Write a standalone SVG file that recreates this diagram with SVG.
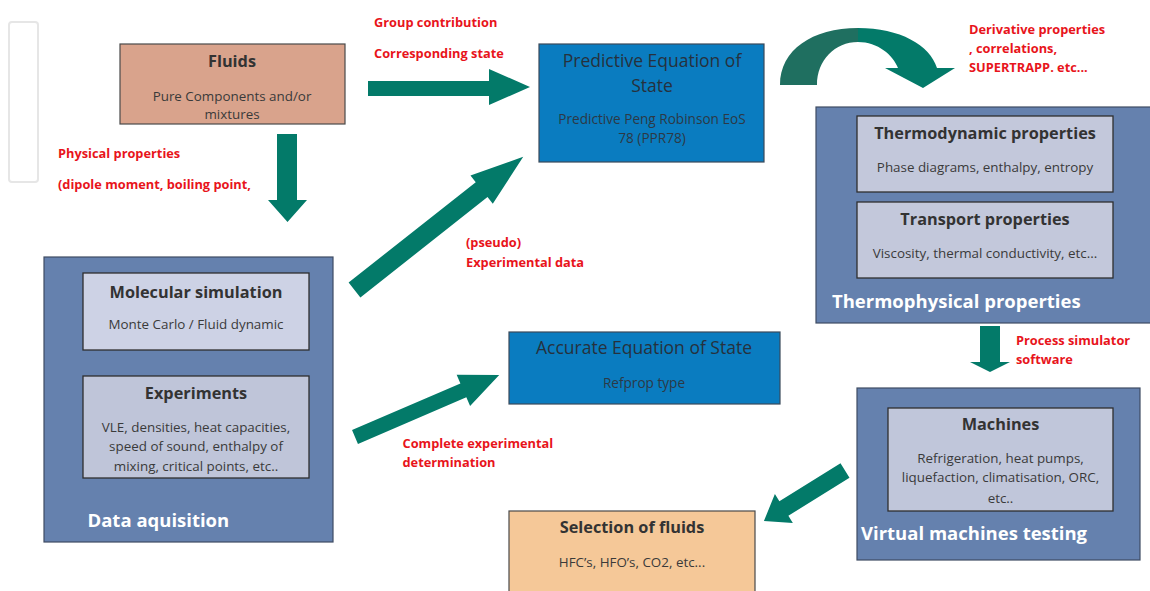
<svg xmlns="http://www.w3.org/2000/svg" width="1150" height="591" viewBox="0 0 1150 591">
<defs>
<style>
.box{stroke:#4a4a4a;stroke-width:1.2}
.cont{fill:#6581ae;stroke:#3f4c63;stroke-width:1.2}
.inner{stroke:#2e2e2e;stroke-width:1.3}
.blue{fill:#0a7cc0;stroke:#3a4a5a;stroke-width:1.2}
.arr{fill:#037a69}
.t{font-family:"Open Sans","Liberation Sans",sans-serif;fill:#333}
.title{font-size:16.3px;font-weight:bold;text-anchor:middle}
.btitle{font-size:17.5px;text-anchor:middle;fill:#26313d}
.sub{font-size:13.4px;text-anchor:middle;fill:#3a3a3a}
.bsub{font-size:13.6px;text-anchor:middle;fill:#2c3946}
.red{font-family:"Open Sans","Liberation Sans",sans-serif;font-size:12.8px;font-weight:bold;fill:#e8141b}
.wt{font-family:"Open Sans","Liberation Sans",sans-serif;font-size:18.5px;font-weight:bold;fill:#ffffff}
</style>
</defs>
<rect width="1150" height="591" fill="#ffffff"/>
<rect x="9" y="22" width="29" height="160" rx="3" fill="#ffffff" stroke="#e6e6e6" stroke-width="2"/>

<g id="connectors">
<polygon class="arr" points="368,81 489,81 489,69 530,87 489,105 489,96 368,96"/>
<polygon class="arr" points="277,134 297,134 297,200 307,200 287.5,222 268,200 277,200"/>
<polygon class="arr" transform="translate(354.5,290) rotate(-38.3)" points="0,-9.5 162,-9.5 162,-18 215,0 162,18 162,9.5 0,9.5"/>
<polygon class="arr" transform="translate(355,437) rotate(-23.3)" points="0,-7.5 118,-7.5 118,-17 157,0 118,17 118,7.5 0,7.5"/>
<path fill="#1f6f60" d="M780,85 C780,50 812,28 858,28 L858,42 C835,42 817,60 817,85 Z"/>
<path class="arr" d="M858,28 C900,28 930,45 937,68 L955,68 L923,88 L885,68 L898,68 C893,55 878,42 858,42 Z"/>
<polygon class="arr" points="980,326 1000,326 1000,362 1010,362 990,372 970,362 980,362"/>
<polygon class="arr" transform="translate(845,470.5) rotate(148.1)" points="0,-8.5 72,-8.5 72,-17 95.5,0 72,17 72,8.5 0,8.5"/>
</g>

<g id="fluids">
<rect class="box" x="120" y="44" width="225" height="80" fill="#d9a38c"/>
<text class="t title" x="232" y="67">Fluids</text>
<text class="t sub" x="232" y="101">Pure Components and/or</text>
<text class="t sub" x="232" y="119">mixtures</text>
</g>

<g id="predictive-eos">
<rect class="blue" x="539" y="44" width="225" height="118"/>
<text class="t btitle" x="652" y="67">Predictive Equation of</text>
<text class="t btitle" x="652" y="92">State</text>
<text class="t bsub" x="652" y="124">Predictive Peng Robinson EoS</text>
<text class="t bsub" x="652" y="143">78 (PPR78)</text>
</g>

<g id="thermophysical">
<rect class="cont" x="816" y="107" width="340" height="216"/>
<rect class="inner" x="857" y="116" width="256" height="76" fill="#c3c8db"/>
<text class="t title" x="985" y="139">Thermodynamic properties</text>
<text class="t sub" x="985" y="172">Phase diagrams, enthalpy, entropy</text>
<rect class="inner" x="857" y="202" width="256" height="76" fill="#c3c8db"/>
<text class="t title" x="985" y="225">Transport properties</text>
<text class="t sub" x="985" y="258">Viscosity, thermal conductivity, etc...</text>
<text class="wt" x="832" y="308">Thermophysical properties</text>
</g>

<g id="data-aquisition">
<rect class="cont" x="44" y="257" width="289" height="285"/>
<rect class="inner" x="83" y="273" width="226" height="77" fill="#cdd2e5"/>
<text class="t title" x="196" y="298">Molecular simulation</text>
<text class="t sub" x="196" y="329">Monte Carlo / Fluid dynamic</text>
<rect class="inner" x="83" y="376" width="226" height="102" fill="#bfc5d9"/>
<text class="t title" x="196" y="399">Experiments</text>
<text class="t sub" x="196" y="432">VLE, densities, heat capacities,</text>
<text class="t sub" x="196" y="451">speed of sound, enthalpy of</text>
<text class="t sub" x="196" y="471">mixing, critical points, etc..</text>
<text class="wt" x="87.5" y="527">Data aquisition</text>
</g>

<g id="accurate-eos">
<rect class="blue" x="509" y="332" width="271" height="72"/>
<text class="t btitle" x="644" y="354">Accurate Equation of State</text>
<text class="t bsub" x="644" y="388">Refprop type</text>
</g>

<g id="virtual-machines">
<rect class="cont" x="857" y="388" width="283" height="172"/>
<rect class="inner" x="888" y="408" width="225" height="103" fill="#c0c6da"/>
<text class="t title" x="1000.5" y="430">Machines</text>
<text class="t sub" x="1000.5" y="463">Refrigeration, heat pumps,</text>
<text class="t sub" x="1000.5" y="482">liquefaction, climatisation, ORC,</text>
<text class="t sub" x="1000.5" y="503">etc..</text>
<text class="wt" x="861" y="540">Virtual machines testing</text>
</g>

<g id="selection">
<rect class="box" x="509" y="511" width="246" height="90" fill="#f5c898"/>
<text class="t title" x="632" y="533">Selection of fluids</text>
<text class="t sub" x="632" y="567">HFC’s, HFO’s, CO2, etc...</text>
</g>

<g id="labels">
<text class="red" x="374" y="27">Group contribution</text>
<text class="red" x="374" y="58">Corresponding state</text>
<text class="red" x="58" y="158">Physical properties</text>
<text class="red" x="58" y="189">(dipole moment, boiling point,</text>
<text class="red" x="969" y="34">Derivative properties</text>
<text class="red" x="969" y="53">, correlations,</text>
<text class="red" x="969" y="72">SUPERTRAPP. etc...</text>
<text class="red" x="466" y="247">(pseudo)</text>
<text class="red" x="466" y="267">Experimental data</text>
<text class="red" x="402.5" y="448">Complete experimental</text>
<text class="red" x="402.5" y="467">determination</text>
<text class="red" x="1016" y="345">Process simulator</text>
<text class="red" x="1016" y="364">software</text>
</g>
</svg>
